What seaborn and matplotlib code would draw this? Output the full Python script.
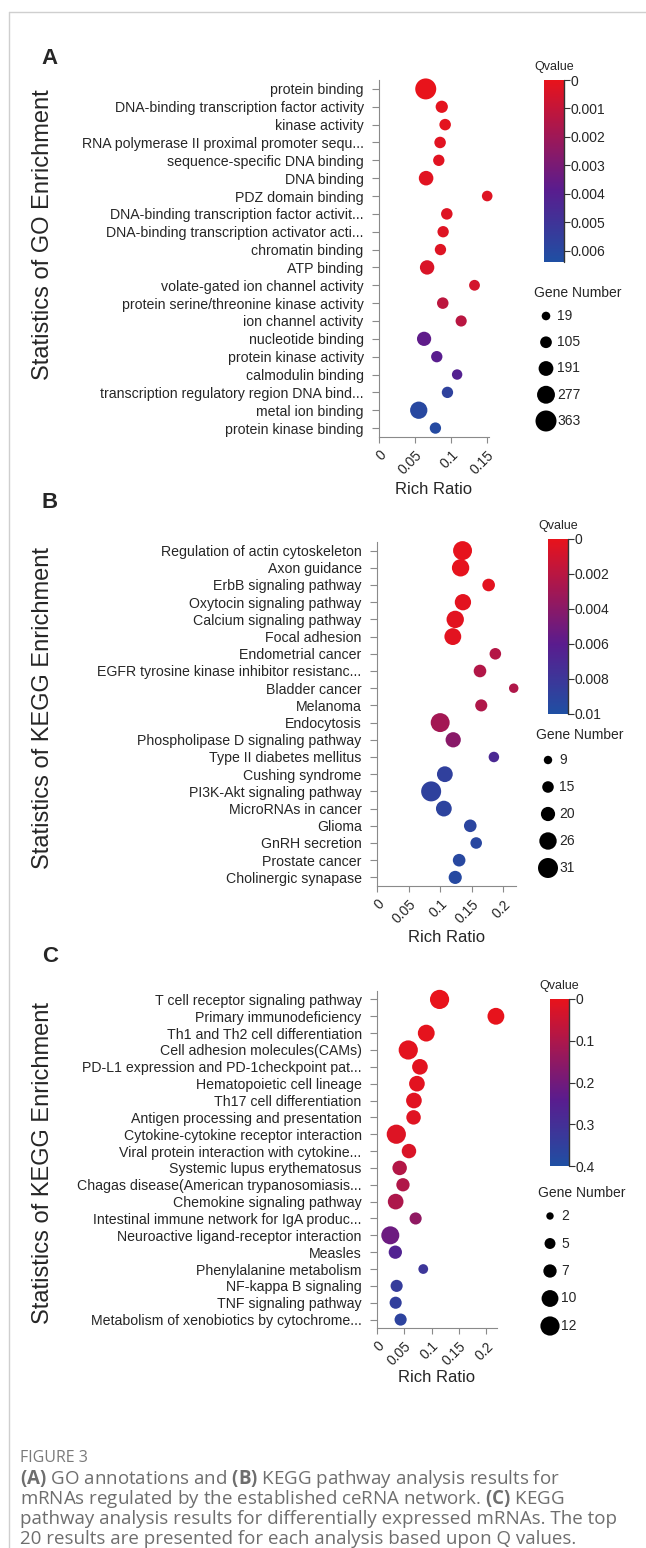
import numpy as np
import pandas as pd
import seaborn as sns
import matplotlib.pyplot as plt
from matplotlib.colors import LinearSegmentedColormap, Normalize
from matplotlib.cm import ScalarMappable
from matplotlib.lines import Line2D

# ---------------- data ----------------
# panel A: GO enrichment
go_terms = ['protein binding', 'DNA-binding transcription factor activity', 'kinase activity',
            'RNA polymerase II proximal promoter sequ...', 'sequence-specific DNA binding', 'DNA binding',
            'PDZ domain binding', 'DNA-binding transcription factor activit...',
            'DNA-binding transcription activator acti...', 'chromatin binding', 'ATP binding',
            'volate-gated ion channel activity', 'protein serine/threonine kinase activity',
            'ion channel activity', 'nucleotide binding', 'protein kinase activity', 'calmodulin binding',
            'transcription regulatory region DNA bind...', 'metal ion binding', 'protein kinase binding']
go_ratio = [0.0648, 0.087, 0.0917, 0.0847, 0.0829, 0.0653, 0.150, 0.094, 0.0889, 0.0852,
            0.0667, 0.1324, 0.0884, 0.1139, 0.0625, 0.0801, 0.1083, 0.0949, 0.0551, 0.0782]
go_genes = [363, 120, 100, 100, 95, 185, 75, 100, 95, 95,
            180, 80, 100, 90, 175, 95, 70, 95, 260, 95]
go_qvalue = [0.0, 0.0001, 0.0001, 0.0002, 0.0002, 0.0002, 0.0003, 0.0003, 0.0003, 0.0003,
             0.0004, 0.0006, 0.0012, 0.0013, 0.0037, 0.0039, 0.0041, 0.0057, 0.0060, 0.0061]
go_size_levels = [19, 105, 191, 277, 363]
go_q_ticks = [0, 0.001, 0.002, 0.003, 0.004, 0.005, 0.006]
go_x_ticks = [0, 0.05, 0.1, 0.15]

# panel B: KEGG enrichment (ceRNA network mRNAs)
kb_terms = ['Regulation of actin cytoskeleton', 'Axon guidance', 'ErbB signaling pathway',
            'Oxytocin signaling pathway', 'Calcium signaling pathway', 'Focal adhesion',
            'Endometrial cancer', 'EGFR tyrosine kinase inhibitor resistanc...', 'Bladder cancer',
            'Melanoma', 'Endocytosis', 'Phospholipase D signaling pathway', 'Type II diabetes mellitus',
            'Cushing syndrome', 'PI3K-Akt signaling pathway', 'MicroRNAs in cancer', 'Glioma',
            'GnRH secretion', 'Prostate cancer', 'Cholinergic synapase']
kb_ratio = [0.1354, 0.1323, 0.1767, 0.136, 0.1238, 0.120, 0.1873, 0.163, 0.2164, 0.165,
            0.100, 0.1206, 0.185, 0.1074, 0.0857, 0.1058, 0.1476, 0.157, 0.130, 0.1238]
kb_genes = [29, 26, 17, 24, 26, 25, 15, 17, 11, 16,
            29, 22, 13, 23, 31, 23, 17, 15, 17, 18]
kb_qvalue = [0.0001, 0.0001, 0.0002, 0.0002, 0.0003, 0.0003, 0.0022, 0.0023, 0.0024, 0.0024,
             0.0029, 0.0040, 0.0070, 0.0088, 0.0089, 0.0090, 0.0092, 0.0093, 0.0094, 0.0095]
kb_size_levels = [9, 15, 20, 26, 31]
kb_q_ticks = [0, 0.002, 0.004, 0.006, 0.008, 0.01]
kb_x_ticks = [0, 0.05, 0.1, 0.15, 0.2]

# panel C: KEGG enrichment (differentially expressed mRNAs)
kc_terms = ['T cell receptor signaling pathway', 'Primary immunodeficiency', 'Th1 and Th2 cell differentiation',
            'Cell adhesion molecules(CAMs)', 'PD-L1 expression and PD-1checkpoint pat...',
            'Hematopoietic cell lineage', 'Th17 cell differentiation', 'Antigen processing and presentation',
            'Cytokine-cytokine receptor interaction', 'Viral protein interaction with cytokine...',
            'Systemic lupus erythematosus', 'Chagas disease(American trypanosomiasis...',
            'Chemokine signaling pathway', 'Intestinal immune network for IgA produc...',
            'Neuroactive ligand-receptor interaction', 'Measles', 'Phenylalanine metabolism',
            'NF-kappa B signaling', 'TNF signaling pathway', 'Metabolism of xenobiotics by cytochrome...']
kc_ratio = [0.1147, 0.218, 0.0903, 0.0573, 0.0787, 0.0732, 0.0677, 0.067, 0.0354, 0.0586,
            0.0415, 0.0476, 0.0342, 0.0708, 0.0244, 0.0336, 0.0848, 0.036, 0.0342, 0.0433]
kc_genes = [12, 10, 10, 12, 9, 9, 9, 8, 12, 8,
            8, 7, 9, 6, 11, 7, 4, 6, 6, 6]
kc_qvalue = [0.001, 0.002, 0.005, 0.008, 0.010, 0.012, 0.014, 0.015, 0.020, 0.025,
             0.09, 0.095, 0.10, 0.15, 0.21, 0.26, 0.32, 0.34, 0.35, 0.36]
kc_size_levels = [2, 5, 7, 10, 12]
kc_q_ticks = [0, 0.1, 0.2, 0.3, 0.4]
kc_x_ticks = [0, 0.05, 0.1, 0.15, 0.2]

# ---------------- style ----------------
W, H, DPI = 646, 1548, 100
sns.set_style('ticks')
plt.rcParams['font.family'] = ['Liberation Sans', 'DejaVu Sans']
plt.rcParams['mathtext.fontset'] = 'custom'
plt.rcParams['mathtext.rm'] = 'Open Sans'
plt.rcParams['mathtext.bf'] = 'Open Sans:bold'

qcmap = LinearSegmentedColormap.from_list('qv', [(0, '#e8131b'), (0.6, '#5a1c8e'), (1, '#1f4fa3')])
GRAY = '#8a8a8a'


def fbox(l, t, r, b):
    return [l / W, 1 - b / H, (r - l) / W, (b - t) / H]


def area(r_px):
    return (2 * r_px * 72 / DPI) ** 2


def draw_panel(fig, terms, ratio, genes, qv, levels, q_ticks, x_ticks, vmax, xmax, r_range,
               ax_px, cb_px, leg_px, letter, letter_y, ylab, ylab_y, rich_y):
    df = pd.DataFrame({'term': terms, 'ratio': ratio, 'genes': genes, 'q': qv})
    nmin, nmax = levels[0], levels[-1]
    rmin, rmax = r_range
    sizes = {n: area(rmin + (n - nmin) / (nmax - nmin) * (rmax - rmin))
             for n in set(genes) | set(levels)}
    norm = Normalize(0, vmax)

    ax = fig.add_axes(fbox(*ax_px))
    sns.scatterplot(data=df, x='ratio', y='term', hue='q', size='genes', palette=qcmap,
                    hue_norm=norm, sizes=sizes, legend=False, linewidth=0, clip_on=False, ax=ax)
    ax.set_ylim(len(terms) - 0.5, -0.5)
    ax.set_xlim(0, xmax)
    ax.set_xticks(x_ticks)
    ax.set_xticklabels([f'{v:g}' for v in x_ticks], rotation=45, ha='right', va='top',
                       rotation_mode='anchor', fontsize=10)
    ax.tick_params(axis='y', labelsize=10.2, length=5, pad=6)
    ax.tick_params(axis='x', length=4, pad=4)
    ax.tick_params(width=0.8, color=GRAY)
    ax.set_xlabel('')
    ax.set_ylabel('')
    sns.despine(ax=ax)
    for s in ['left', 'bottom']:
        ax.spines[s].set_color(GRAY)
        ax.spines[s].set_linewidth(0.8)

    # colour bar for Q values
    cax = fig.add_axes(fbox(*cb_px))
    cb = fig.colorbar(ScalarMappable(norm=norm, cmap=qcmap), cax=cax, ticks=q_ticks)
    cb.set_ticklabels([f'{v:g}' for v in q_ticks])
    cax.invert_yaxis()
    cb.outline.set_visible(False)
    cax.axvline(1, color='#333333', lw=1, clip_on=False)
    cax.tick_params(length=4, width=0.8, color='#333333', labelsize=10, pad=1)
    fig.text((cb_px[0] + cb_px[2]) / 2 / W, 1 - (cb_px[1] - 13) / H, 'Qvalue',
             ha='center', va='center', fontsize=9)

    # gene number legend
    l, title_y, first, last = leg_px
    step = (last - first) / (len(levels) - 1)
    lax = fig.add_axes(fbox(l, first - step / 2, l + 90, last + step / 2))
    leg = pd.DataFrame({'genes': levels, 'pos': range(len(levels)), 'x': 14})
    sns.scatterplot(data=leg, x='x', y='pos', size='genes', sizes=sizes, color='black',
                    legend=False, linewidth=0, clip_on=False, ax=lax)
    lax.set_xlim(0, 90)
    lax.set_ylim(len(levels) - 0.5, -0.5)
    for i, n in enumerate(levels):
        lax.text(25, i, str(n), va='center', ha='left', fontsize=10)
    lax.axis('off')
    fig.text((l + 2) / W, 1 - title_y / H, 'Gene Number', ha='left', va='center', fontsize=10)

    # labels
    fig.text(50 / W, 1 - letter_y / H, letter, ha='center', va='center', fontsize=16, fontweight='bold')
    fig.text(43 / W, 1 - ylab_y / H, ylab, rotation=90, ha='center', va='center', fontsize=17)
    fig.text((ax_px[0] + ax_px[2]) / 2 / W, 1 - rich_y / H, 'Rich Ratio',
             ha='center', va='center', fontsize=12)


fig = plt.figure(figsize=(W / DPI, H / DPI), dpi=DPI)

draw_panel(fig, go_terms, go_ratio, go_genes, go_qvalue, go_size_levels, go_q_ticks, go_x_ticks,
           0.0064, 0.1525, (4.3, 10.5), (379, 80, 489, 437), (544, 80, 564, 262),
           (532, 293, 316, 421), 'A', 58, 'Statistics of GO Enrichment', 235, 489)
draw_panel(fig, kb_terms, kb_ratio, kb_genes, kb_qvalue, kb_size_levels, kb_q_ticks, kb_x_ticks,
           0.01, 0.22, (4.2, 10.0), (377, 542, 516, 886), (548, 539, 568, 714),
           (534, 735, 760, 868), 'B', 503, 'Statistics of KEGG Enrichment', 708, 938)
draw_panel(fig, kc_terms, kc_ratio, kc_genes, kc_qvalue, kc_size_levels, kc_q_ticks, kc_x_ticks,
           0.4, 0.22, (3.7, 9.6), (377, 991, 497, 1328), (550, 999, 569, 1166),
           (536, 1193, 1216, 1326), 'C', 956, 'Statistics of KEGG Enrichment', 1163, 1378)

# page frame
fig.add_artist(Line2D([9 / W, 1], [1 - 12 / H, 1 - 12 / H], color='#cfcfcf', lw=1))
fig.add_artist(Line2D([9 / W, 9 / W], [0, 1 - 12 / H], color='#cfcfcf', lw=1))

# caption
cap_color = '#6e6e6e'
fig.text(20 / W, 1 - 1462 / H, 'FIGURE 3', ha='left', va='baseline', fontsize=11.5,
         color='#7a7a7a', family='Open Sans')
caption = [r'$\mathbf{(A)}$ GO annotations and $\mathbf{(B)}$ KEGG pathway analysis results for',
           r'mRNAs regulated by the established ceRNA network. $\mathbf{(C)}$ KEGG',
           'pathway analysis results for differentially expressed mRNAs. The top',
           '20 results are presented for each analysis based upon Q values.']
for i, line in enumerate(caption):
    fig.text(20 / W, 1 - (1484 + 20 * i) / H, line, ha='left', va='baseline',
             fontsize=13.5, color=cap_color, family='Open Sans')

fig.savefig('out.png', dpi=DPI)
